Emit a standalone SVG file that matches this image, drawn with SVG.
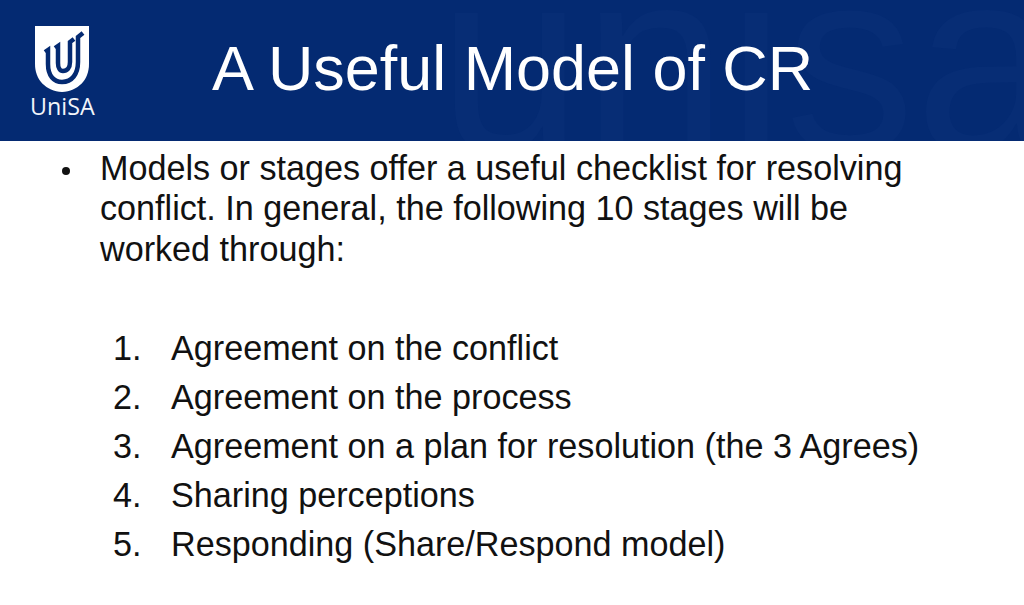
<svg xmlns="http://www.w3.org/2000/svg" width="1024" height="605" viewBox="0 0 1024 605">
<style>
text{font-family:"Liberation Sans",Arial,sans-serif}
.b{font-size:34.170px;fill:#111}
</style>
<defs><clipPath id="hc"><rect width="1024" height="141"/></clipPath></defs>
<rect width="1024" height="605" fill="#fff"/>
<g id="header">
<rect width="1024" height="141" fill="#042a72"/>
<g clip-path="url(#hc)"><text x="438" y="150" font-size="260" fill="#072d75">unisa</text></g>
</g>
<g id="logo">
<path d="M35 26H89V64C89 80 78 91 62 92C46 91 35 80 35 64Z" fill="#fff"/>
<g fill="none" stroke="#042a72">
<path d="M45 52L48 50V64C48 76 54 82 62 82C72 82 78 74 78 62V37L83 33" stroke-width="4.500"/>
<path d="M55 48L58 46V63C58 68 60 71 63 71C67 71 70 68 70 62V42L74 39" stroke-width="4.500"/>
</g>
<text x="30" y="115" font-size="23.300" fill="#f2f5fa" style="font-family:'Open Sans',sans-serif">UniSA</text>
</g>
<text id="title" x="212" y="90" font-size="62.900" fill="#fff">A Useful Model of CR</text>
<g id="body">
<circle cx="66" cy="171" r="4" fill="#111"/>
<text class="b" x="100" y="180">Models or stages offer a useful checklist for resolving</text>
<text class="b" x="100" y="220">conflict. In general, the following 10 stages will be</text>
<text class="b" x="100" y="261">worked through:</text>
<text class="b" x="113" y="360">1.</text><text class="b" x="171" y="360">Agreement on the conflict</text>
<text class="b" x="113" y="409">2.</text><text class="b" x="171" y="409">Agreement on the process</text>
<text class="b" x="113" y="458">3.</text><text class="b" x="171" y="458">Agreement on a plan for resolution (the 3 Agrees)</text>
<text class="b" x="113" y="507">4.</text><text class="b" x="171" y="507">Sharing perceptions</text>
<text class="b" x="113" y="556">5.</text><text class="b" x="171" y="556">Responding (Share/Respond model)</text>
</g>
</svg>
